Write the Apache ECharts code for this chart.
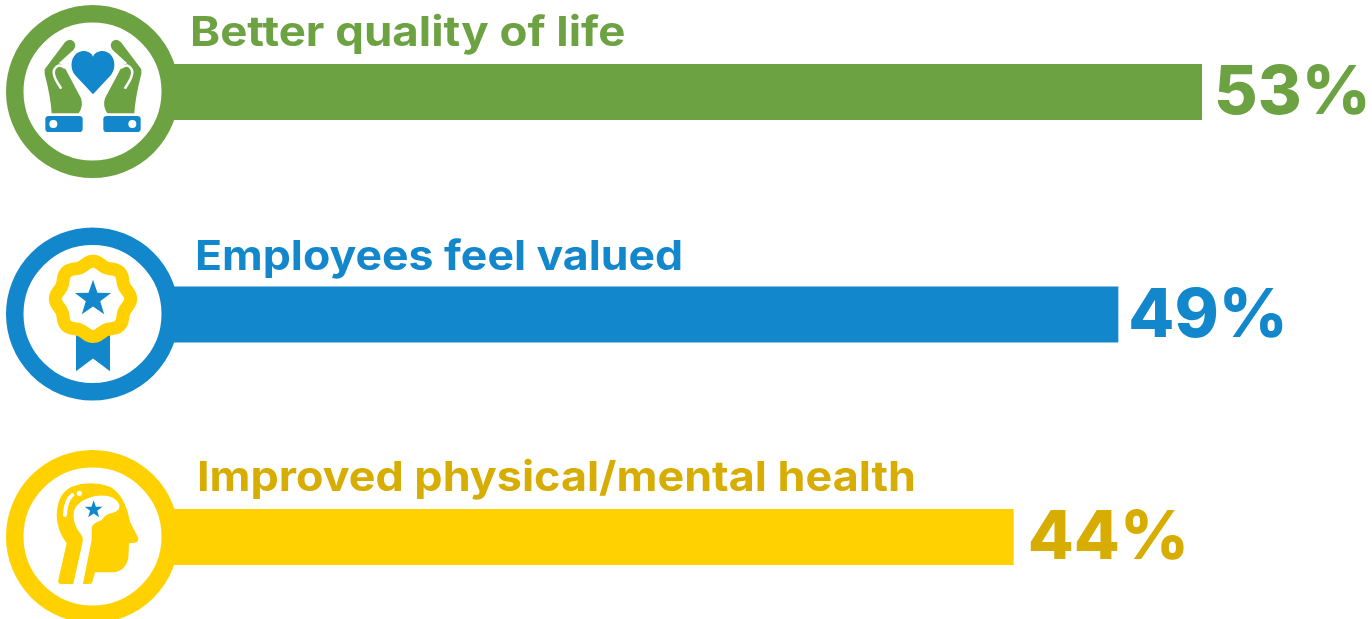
<!DOCTYPE html>
<html>
<head>
<meta charset="utf-8">
<title>Reasons</title>
<script src="https://cdn.jsdelivr.net/npm/echarts@6/dist/echarts.min.js"></script>
<style>
html, body { margin: 0; padding: 0; background: #fff; }
#chart1 { width: 1372px; height: 619px; overflow: hidden; }
</style>
</head>
<body>
<div id="chart1"></div>
<script>
// chart values
var categories = ['Better quality of life', 'Employees feel valued', 'Improved physical/mental health'];
var values = [53, 49, 44];
var barColors = ['#6DA242', '#1287CC', '#FFD100'];
var textColors = ['#6DA242', '#1287CC', '#D6AD00'];
var labelOffsets = [97, 102, 104];
var labelRises = [38, 36.5, 38];
var labelScales = [1.112, 1.087, 1.094];
var valueGaps = [12, 10, 14];

var BLUE = '#1287CC', GREEN = '#6DA242', YELLOW = '#FFD100', WHITE = '#fff';
var FONT = 'Inter, sans-serif';

// 星形路径
function star(cx, cy, R) {
	var p = [];
	for (var i = 0; i < 10; i++) {
		var r = i % 2 ? R * 0.4 : R;
		var a = -Math.PI / 2 + i * Math.PI / 5;
		p.push((i ? 'L' : 'M') + (cx + r * Math.cos(a)).toFixed(1) + ' ' + (cy + r * Math.sin(a)).toFixed(1));
	}
	return p.join(' ') + ' Z';
}

function dot(cx, cy, r) {
	return 'M' + (cx - r) + ' ' + cy + ' A' + r + ' ' + r + ' 0 1 1 ' + (cx + r) + ' ' + cy + ' A' + r + ' ' + r + ' 0 1 1 ' + (cx - r) + ' ' + cy + ' Z';
}

// 徽章波浪圈
function wavy(cx, cy, R, amp) {
	var p = [];
	for (var i = 0; i < 96; i++) {
		var a = i / 96 * Math.PI * 2;
		var r = R + amp * Math.cos(8 * a);
		p.push((i ? 'L' : 'M') + (cx + r * Math.sin(a)).toFixed(1) + ' ' + (cy - r * Math.cos(a)).toFixed(1));
	}
	return p.join(' ') + ' Z';
}

function roundRect(x0, y0, x1, y1, r) {
	return 'M' + (x0 + r) + ' ' + y0 + ' L' + (x1 - r) + ' ' + y0 + ' Q' + x1 + ' ' + y0 + ' ' + x1 + ' ' + (y0 + r)
		+ ' L' + x1 + ' ' + (y1 - r) + ' Q' + x1 + ' ' + y1 + ' ' + (x1 - r) + ' ' + y1
		+ ' L' + (x0 + r) + ' ' + y1 + ' Q' + x0 + ' ' + y1 + ' ' + x0 + ' ' + (y1 - r)
		+ ' L' + x0 + ' ' + (y0 + r) + ' Q' + x0 + ' ' + y0 + ' ' + (x0 + r) + ' ' + y0 + ' Z';
}

// 图标: 坐标为 3 倍放大后的像素, [路径, 填充, 描边, 线宽]
var icons = [
	{ ox: 279, oy: 276, parts: [
		['M195 127 Q208 112 222 125 Q230 137 220 150 L176 190 Q188 192 198 210 L243 295 Q251 318 236 340 L155 340 Q152 290 134 222 L134 208 Z', GREEN],
		['M363 127 Q350 112 336 125 Q328 137 338 150 L382 190 Q370 192 360 210 L315 295 Q307 318 322 340 L403 340 Q406 290 424 222 L424 208 Z', GREEN],
		['M182 263 Q155 225 163 208 Q175 188 192 202', 'none', WHITE, 2.5],
		['M376 263 Q403 225 395 208 Q383 188 366 202', 'none', WHITE, 2.5],
		['M279 283 L225 225 C205 200 215 155 250 153 C265 153 275 160 279 170 C283 160 293 153 308 153 C343 155 353 200 333 225 Z', BLUE],
		[roundRect(136, 348, 248, 396, 10), BLUE],
		[roundRect(310, 348, 422, 396, 10), BLUE],
		[dot(160, 372, 12), WHITE],
		[dot(397, 372, 12), WHITE]
	] },
	{ ox: 279, oy: 283, parts: [
		['M228 338 L330 338 L330 453 L279 415 L228 453 Z', BLUE],
		[wavy(279, 236, 107, 6), 'none', YELLOW, 13],
		[star(279, 236, 57), BLUE]
	] },
	{ ox: 279, oy: 291, parts: [
		['M184 432 Q172 432 175 420 L200 310 Q170 270 170 225 Q172 160 215 140 Q270 120 330 140 Q375 165 390 245 L415 295 Q415 308 405 308 L387 310 L385 355 Q375 395 340 397 L285 397 L277 425 Q275 432 268 432 L248 432 L218 432 Z', YELLOW],
		['M218 440 L248 305 Q250 290 240 280 Q215 245 222 212 Q232 182 285 168 Q345 160 358 195 Q362 215 325 222 Q312 228 306 240 Q280 248 275 262 L275 300 L247 440 Z', WHITE],
		['M217 165 Q197 180 195 225', 'none', WHITE, 4],
		[dot(238, 160, 8), WHITE],
		[star(281, 209, 28), BLUE]
	] }
];

// 圆环和图标
function renderBadge(params, api) {
	var i = params.dataIndex;
	var c = api.coord([0, api.value(1)]);
	var icon = icons[i];
	var children = [{
		type: 'circle',
		shape: { cx: c[0] - 0.5, cy: c[1] - 0.5, r: 77.75 },
		style: { fill: WHITE, stroke: barColors[i], lineWidth: 17.5 }
	}];
	var left = c[0] - icon.ox / 3, top = c[1] - icon.oy / 3;
	icon.parts.forEach(function(part) {
		children.push({
			type: 'path',
			shape: {
				// 两个 M 点固定包围盒, 这样路径保持原比例
				pathData: 'M0 0 M600 600 ' + part[0],
				layout: 'cover',
				x: left, y: top, width: 200, height: 200
			},
			style: { fill: part[1], stroke: part[2] || null, lineWidth: part[3] || 0, lineCap: 'round', lineJoin: 'round' }
		});
	});
	children.push({
		type: 'text',
		x: c[0] + labelOffsets[i],
		y: c[1] - labelRises[i],
		scaleX: labelScales[i],
		style: {
			text: categories[i], fill: textColors[i], font: 'bold 41px ' + FONT,
			textAlign: 'left', textVerticalAlign: 'bottom'
		}
	});
	return { type: 'group', children: children };
}

var chart1 = echarts.init(document.getElementById('chart1'), null, { renderer: 'canvas' });
var options = {
	animation: false,
	backgroundColor: '#fff',
	grid: { left: 93, width: 1255.5, top: 92, height: 445 },
	xAxis: { type: 'value', min: 0, max: 60, show: false },
	yAxis: { type: 'category', data: categories, inverse: true, show: false, boundaryGap: false },
	series: [{
		type: 'bar',
		barWidth: 56,
		clip: false,
		data: values.map(function(v, i) {
			return { value: v, itemStyle: { color: barColors[i] },
				label: { color: textColors[i], distance: valueGaps[i] } };
		}),
		label: {
			show: true, position: 'right', offset: [0, 2],
			formatter: '{c}%', fontFamily: FONT, fontWeight: 800, fontSize: 67
		}
	}, {
		type: 'custom',
		renderItem: renderBadge,
		z: 5,
		clip: false,
		encode: { x: 0, y: 1 },
		data: values.map(function(v, i) { return [0, i]; })
	}]
};
chart1.setOption(options);
</script>
</body>
</html>
